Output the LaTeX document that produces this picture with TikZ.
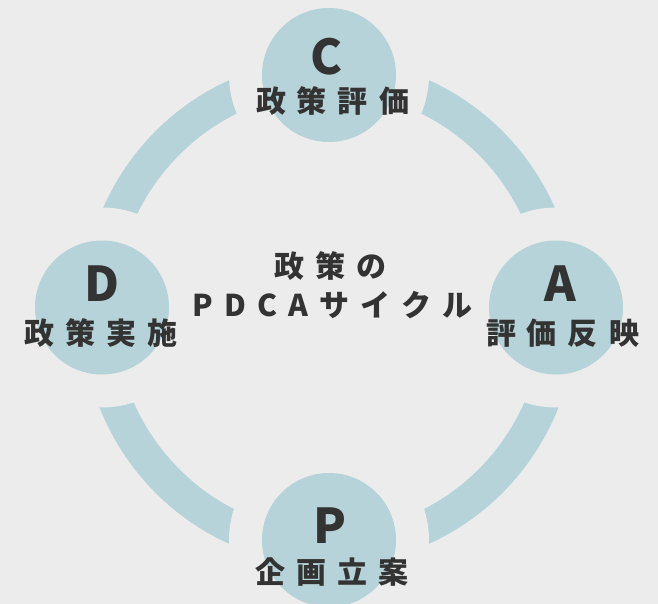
\documentclass[tikz,border=0pt]{standalone}
\usepackage{fontspec}
\setmainfont{Noto Sans CJK JP}
\definecolor{bgcol}{HTML}{ECECEC}
\definecolor{ringcol}{HTML}{B5D3D8}
\definecolor{inkcol}{HTML}{333333}
\newcommand\jgap{\hspace{11pt}}
\newcommand\tgap{\hspace{11pt}}
\begin{document}
\begin{tikzpicture}[x=1pt,y=-1pt,
  disc/.style={circle, fill=ringcol, minimum size=134pt, inner sep=0pt},
  gapdisc/.style={circle, fill=bgcol, minimum size=200pt, inner sep=0pt},
  bigletter/.style={font=\bfseries\fontsize{48}{48}\selectfont, text=inkcol, inner sep=0pt},
  jlabel/.style={font=\bfseries\fontsize{30}{30}\selectfont, text=inkcol, inner sep=0pt},
]
\fill[bgcol] (0,0) rectangle (658,604);
\useasboundingbox (0,0) rectangle (658,604);
% ring
\draw[ringcol, line width=33.5pt] (329,312) ellipse [x radius=231pt, y radius=236.5pt];
% gaps around the discs
\node[gapdisc] (Cg) at (329,75) {};
\node[gapdisc] (Dg) at (102,307.5) {};
\node[gapdisc] (Ag) at (556,307.5) {};
\node[gapdisc] (Pg) at (329,540) {};
% discs
\node[disc] (C) at (329,75) {};
\node[disc] (D) at (102,307.5) {};
\node[disc] (A) at (556,307.5) {};
\node[disc] (P) at (329,540) {};
% letters
\node[bigletter] (Cl) at (327,56.7) {C};
\node[bigletter] (Dl) at (102,284) {D};
\node[bigletter] (Al) at (560,284) {A};
\node[bigletter] (Pl) at (330,526) {P};
% labels
\node[jlabel] (Ct) at (332.5,101) {政\jgap 策\jgap 評\jgap 価};
\node[jlabel] (Dt) at (101,333) {政\jgap 策\jgap 実\jgap 施};
\node[jlabel] (At) at (562.5,333.5) {評\jgap 価\jgap 反\jgap 映};
\node[jlabel] (Pt) at (331.7,572) {企\jgap 画\jgap 立\jgap 案};
% centre title
\node[jlabel] (T1) at (330.4,265.7) {政\jgap 策\jgap の};
\node[jlabel] (T2) at (332.5,305.5) {P\tgap D\tgap C\tgap A\tgap サ\tgap イ\tgap ク\tgap ル};
\end{tikzpicture}
\end{document}
